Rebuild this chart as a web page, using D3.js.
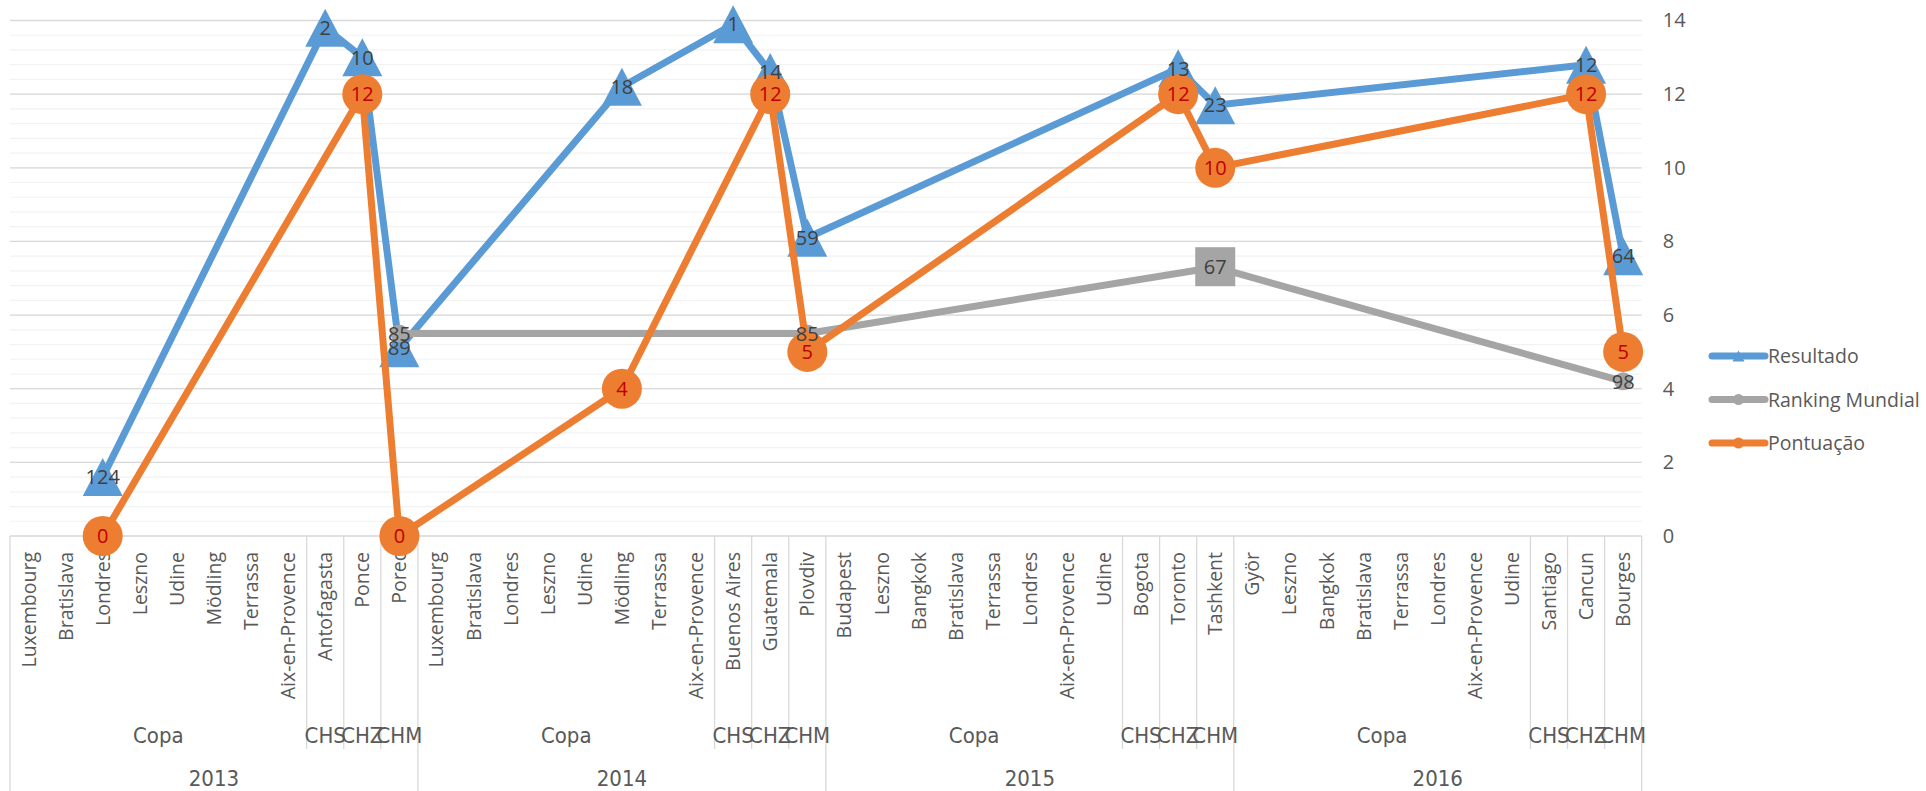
<!DOCTYPE html>
<html>
<head>
<meta charset="utf-8">
<script src="https://cdn.jsdelivr.net/npm/d3@7"></script>
<style>
  body { margin: 0; background: #fff; }
  svg { display: block; }
</style>
</head>
<body>
<div id="chart"></div>
<script>
// multi-level category axis: year > competition > city
const years = ['2013', '2014', '2015', '2016'];
const competitions = ['Copa', 'Copa', 'Copa', 'Copa', 'Copa', 'Copa', 'Copa', 'Copa', 'CHS', 'CHZ', 'CHM'];
const cities = [
  ['Luxembourg', 'Bratislava', 'Londres', 'Leszno', 'Udine', 'Mödling', 'Terrassa', 'Aix-en-Provence', 'Antofagasta', 'Ponce', 'Porec'],
  ['Luxembourg', 'Bratislava', 'Londres', 'Leszno', 'Udine', 'Mödling', 'Terrassa', 'Aix-en-Provence', 'Buenos Aires', 'Guatemala', 'Plovdiv'],
  ['Budapest', 'Leszno', 'Bangkok', 'Bratislava', 'Terrassa', 'Londres', 'Aix-en-Provence', 'Udine', 'Bogota', 'Toronto', 'Tashkent'],
  ['Györ', 'Leszno', 'Bangkok', 'Bratislava', 'Terrassa', 'Londres', 'Aix-en-Provence', 'Udine', 'Santiago', 'Cancun', 'Bourges']
];

// plotted values (null = no point), one row per year
const resultado = [
  [null, null, 1.6, null, null, null, null, null, 13.8, 13.0, 5.1],
  [null, null, null, null, null, 12.2, null, null, 13.9, 12.6, 8.1],
  [null, null, null, null, null, null, null, null, null, 12.7, 11.7],
  [null, null, null, null, null, null, null, null, null, 12.8, 7.6]
];
const resultadoLabels = [
  [null, null, 124, null, null, null, null, null, 2, 10, 89],
  [null, null, null, null, null, 18, null, null, 1, 14, 59],
  [null, null, null, null, null, null, null, null, null, 13, 23],
  [null, null, null, null, null, null, null, null, null, 12, 64]
];
const ranking = [
  [null, null, null, null, null, null, null, null, null, null, 5.5],
  [null, null, null, null, null, null, null, null, null, null, 5.5],
  [null, null, null, null, null, null, null, null, null, null, 7.3],
  [null, null, null, null, null, null, null, null, null, null, 4.2]
];
const rankingLabels = [
  [null, null, null, null, null, null, null, null, null, null, 85],
  [null, null, null, null, null, null, null, null, null, null, 85],
  [null, null, null, null, null, null, null, null, null, null, 67],
  [null, null, null, null, null, null, null, null, null, null, 98]
];
const pontuacao = [
  [null, null, 0, null, null, null, null, null, null, 12, 0],
  [null, null, null, null, null, 4, null, null, null, 12, 5],
  [null, null, null, null, null, null, null, null, null, 12, 10],
  [null, null, null, null, null, null, null, null, null, 12, 5]
];
const yTicks = [0, 2, 4, 6, 8, 10, 12, 14];

const W = 1926, H = 791;
const plot = { left: 10, right: 1641.7, top: 20.5, bottom: 536 };
const textFont = '"Open Sans", "Noto Sans", sans-serif';
const narrowFont = '"Liberation Sans Narrow", "DejaVu Sans Condensed", sans-serif';

const categories = years.flatMap((yr, yi) =>
  cities[yi].map((c, ci) => ({ year: yr, comp: competitions[ci], city: c })));

function flat(rows, labels) {
  return rows.flat().map((v, i) => ({ i, v, label: labels ? labels.flat()[i] : v }))
    .filter(d => d.v != null);
}

const series = [
  { name: 'Resultado', color: '#5B9BD5', marker: 'triangle', points: flat(resultado, resultadoLabels), labelColor: '#404040' },
  { name: 'Ranking Mundial', color: '#A5A5A5', marker: 'circle', points: flat(ranking, rankingLabels), labelColor: '#404040' },
  { name: 'Pontuação', color: '#ED7D31', marker: 'circle', points: flat(pontuacao), labelColor: '#C00000' }
];

const svg = d3.select('#chart').append('svg')
  .attr('width', W).attr('height', H)
  .style('background', '#fff');

const x = d3.scalePoint()
  .domain(d3.range(categories.length))
  .range([plot.left, plot.right])
  .padding(0.5);
const step = x.step();
const edge = i => plot.left + i * step;

const y = d3.scaleLinear().domain([0, 14]).range([plot.bottom, plot.top]);

// minor + major gridlines
svg.append('g').selectAll('line')
  .data(d3.range(0, 14.001, 0.4))
  .join('line')
  .attr('x1', plot.left).attr('x2', plot.right)
  .attr('y1', d => y(d)).attr('y2', d => y(d))
  .attr('stroke', '#F2F2F2').attr('stroke-width', 1.2);

svg.append('g').selectAll('line')
  .data(yTicks)
  .join('line')
  .attr('x1', plot.left).attr('x2', plot.right)
  .attr('y1', d => y(d)).attr('y2', d => y(d))
  .attr('stroke', '#D9D9D9').attr('stroke-width', 1.3);

// right value axis
const yAxis = svg.append('g')
  .attr('transform', `translate(${plot.right},0)`)
  .call(d3.axisRight(y).tickValues(yTicks).tickSize(0).tickPadding(21).tickFormat(d3.format('d')));
yAxis.select('.domain').remove();
yAxis.selectAll('text')
  .attr('font-family', textFont).attr('font-size', 20).attr('fill', '#595959');

// category axis: separators
const seps = [];
categories.forEach((c, i) => {
  if (i === 0) { seps.push({ x: edge(0), full: true }); return; }
  const p = categories[i - 1];
  if (p.year !== c.year) seps.push({ x: edge(i), full: true });
  else if (p.comp !== c.comp || c.comp !== 'Copa') seps.push({ x: edge(i), full: false });
});
seps.push({ x: edge(categories.length), full: true });

svg.append('g').selectAll('line')
  .data(seps)
  .join('line')
  .attr('x1', d => d.x).attr('x2', d => d.x)
  .attr('y1', plot.bottom)
  .attr('y2', d => d.full ? H : 749)
  .attr('stroke', '#D9D9D9').attr('stroke-width', 1.3);

// city labels (rotated)
svg.append('g').selectAll('text')
  .data(categories)
  .join('text')
  .attr('transform', (d, i) => `translate(${x(i)},${plot.bottom + 16}) rotate(-90)`)
  .attr('dy', '0.36em')
  .attr('text-anchor', 'end')
  .attr('font-family', textFont).attr('font-size', 19.5)
  .attr('fill', '#595959')
  .text(d => d.city);

// group labels (competition and year)
function runs(key) {
  const out = [];
  categories.forEach((c, i) => {
    const k = key(c);
    if (out.length && out[out.length - 1].k === k) out[out.length - 1].end = i;
    else out.push({ k, start: i, end: i, label: key === yearKey ? c.year : c.comp });
  });
  return out;
}
const compKey = c => c.year + '|' + c.comp;
const yearKey = c => c.year;

svg.append('g').selectAll('text')
  .data(runs(compKey))
  .join('text')
  .attr('x', d => (edge(d.start) + edge(d.end + 1)) / 2)
  .attr('y', 735)
  .attr('dy', '0.35em')
  .attr('text-anchor', 'middle')
  .attr('font-family', narrowFont).attr('font-size', 22)
  .attr('fill', '#595959')
  .text(d => d.label);

svg.append('g').selectAll('text')
  .data(runs(yearKey))
  .join('text')
  .attr('x', d => (edge(d.start) + edge(d.end + 1)) / 2)
  .attr('y', 778)
  .attr('dy', '0.35em')
  .attr('text-anchor', 'middle')
  .attr('font-family', narrowFont).attr('font-size', 22)
  .attr('fill', '#595959')
  .text(d => d.label);

// lines + markers
const line = d3.line().x(d => x(d.i)).y(d => y(d.v));
const tri = (w, h) => `M0,${-h / 2}L${w / 2},${h / 2}L${-w / 2},${h / 2}Z`;

series.forEach(s => {
  const g = svg.append('g');
  g.append('path')
    .datum(s.points)
    .attr('d', line)
    .attr('fill', 'none')
    .attr('stroke', s.color)
    .attr('stroke-width', 7)
    .attr('stroke-linejoin', 'round')
    .attr('stroke-linecap', 'round');

  const m = g.selectAll('.mk')
    .data(s.points)
    .join('g')
    .attr('transform', d => `translate(${x(d.i)},${y(d.v)})`);

  if (s.marker === 'triangle') {
    m.append('path').attr('d', tri(40, 38)).attr('fill', s.color);
  } else if (s.name === 'Ranking Mundial') {
    m.each(function (d) {
      const el = d3.select(this);
      if (categories[d.i].city === 'Tashkent') {
        el.append('rect').attr('x', -20).attr('y', -20).attr('width', 40).attr('height', 39).attr('fill', s.color);
      } else {
        el.append('circle').attr('r', 9).attr('fill', s.color);
      }
    });
  } else {
    m.append('circle').attr('r', 20).attr('fill', s.color);
  }
});

// data labels on top
series.forEach(s => {
  svg.append('g').selectAll('text')
    .data(s.points)
    .join('text')
    .attr('x', d => x(d.i))
    .attr('y', d => y(d.v))
    .attr('dy', '0.36em')
    .attr('text-anchor', 'middle')
    .attr('font-family', textFont).attr('font-size', 20)
    .attr('fill', s.labelColor)
    .text(d => d.label);
});

// legend
const legend = svg.append('g').attr('transform', 'translate(1712,356)');
series.forEach((s, k) => {
  const g = legend.append('g').attr('transform', `translate(0,${k * 43.5})`);
  g.append('line')
    .attr('x1', 0).attr('x2', 53)
    .attr('stroke', s.color).attr('stroke-width', 7)
    .attr('stroke-linecap', 'round');
  if (s.marker === 'triangle') {
    g.append('path').attr('transform', 'translate(26.5,0)').attr('d', tri(12, 11)).attr('fill', s.color);
  } else {
    g.append('circle').attr('cx', 26.5).attr('r', 5.5).attr('fill', s.color);
  }
  g.append('text')
    .attr('x', 56).attr('dy', '0.36em')
    .attr('font-family', textFont).attr('font-size', 19.5)
    .attr('fill', '#595959')
    .text(s.name);
});
</script>
</body>
</html>
